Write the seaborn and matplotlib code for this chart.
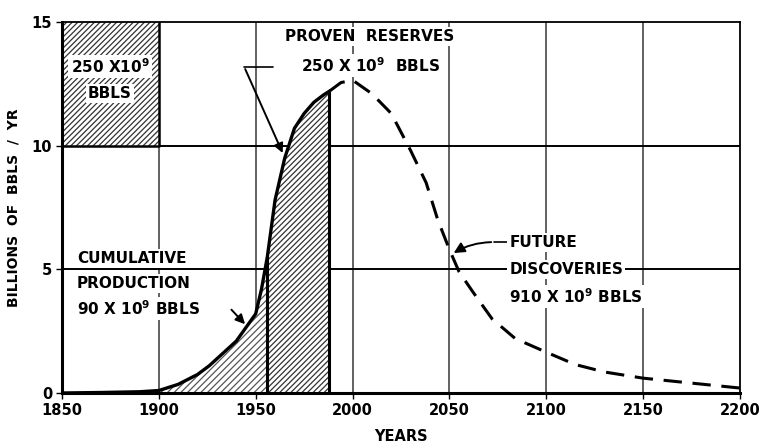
import numpy as np
import pandas as pd
import seaborn as sns
import matplotlib.pyplot as plt

# production curve (billions of bbls / yr)
years = [1850, 1870, 1890, 1900, 1910, 1920, 1926, 1933, 1940, 1945, 1950,
         1953, 1956, 1960, 1965, 1970, 1975, 1980, 1985, 1988, 1994, 2000,
         2010, 2020, 2030, 2038, 2044, 2050, 2055, 2062, 2072, 2084, 2100,
         2115, 2130, 2150, 2175, 2200]
production = [0.0, 0.02, 0.05, 0.1, 0.35, 0.75, 1.1, 1.6, 2.1, 2.65, 3.2,
              4.2, 5.5, 7.8, 9.5, 10.7, 11.3, 11.75, 12.05, 12.2, 12.55, 12.65,
              12.1, 11.3, 9.8, 8.5, 7.0, 5.8, 4.9, 4.1, 3.0, 2.2, 1.65,
              1.15, 0.85, 0.6, 0.4, 0.2]
production_end = 1956   # cumulative production up to here
reserves_end = 1988     # proven reserves up to here
box_years = [1850, 1900]
box_range = [10, 15]

x_ticks = [1850, 1900, 1950, 2000, 2050, 2100, 2150, 2200]
y_ticks = [0, 5, 10, 15]

df = pd.DataFrame({"year": years, "prod": production})
past = df[df.year <= reserves_end]
future = df[df.year >= reserves_end]
cum = df[(df.year >= 1900) & (df.year <= production_end)]
res = df[(df.year >= production_end) & (df.year <= reserves_end)]

sns.set_style("white")
plt.rcParams["font.family"] = ["DejaVu Sans"]
plt.rcParams["font.weight"] = "bold"
plt.rcParams["hatch.linewidth"] = 0.9
for k in ["text.color", "axes.labelcolor", "xtick.color", "ytick.color"]:
    plt.rcParams[k] = "black"

fig = plt.figure(figsize=(7.68, 4.47), dpi=100)
ax = fig.add_axes([0.0807, 0.1208, 0.8828, 0.83])

# grid
for x in x_ticks[1:-1]:
    ax.axvline(x, color="#555555", lw=1.3, zorder=1)
for y in [5, 10]:
    ax.axhline(y, color="black", lw=1.4, zorder=1)

# hatched areas
ax.fill_between(box_years, box_range[0], box_range[1], facecolor="white",
                edgecolor="#333333", hatch="//////", lw=0, zorder=2)
ax.plot([1850, 1900, 1900], [10, 10, 15], color="black", lw=1.8, zorder=3)
ax.fill_between(cum.year, 0, cum["prod"], facecolor="white",
                edgecolor="#555555", hatch="/////", lw=0, zorder=2)
ax.fill_between(res.year, 0, res["prod"], facecolor="white",
                edgecolor="#333333", hatch="//////", lw=0, zorder=2)
ax.vlines([production_end, reserves_end], 0,
          [res["prod"].iloc[0], res["prod"].iloc[-1]], color="black", lw=2.2, zorder=3)

# curve
sns.lineplot(data=past, x="year", y="prod", ax=ax, color="black", lw=2.4, zorder=4)
sns.lineplot(data=future, x="year", y="prod", ax=ax, color="black", lw=2.2,
             linestyle=(0, (6, 3.5)), zorder=4)

bg = dict(facecolor="white", edgecolor="none", pad=1.5)
tkw = dict(fontsize=11, fontweight="bold", zorder=5)

ax.text(1874.8, 13.2, "250 X10$^9$", ha="center", va="center", bbox=bg, **tkw)
ax.text(1874.8, 12.1, "BBLS", ha="center", va="center", bbox=bg, **tkw)

ax.text(2009, 14.4, "PROVEN  RESERVES", ha="center", va="center", bbox=bg, **tkw)
ax.text(2009, 13.25, "250 X 10$^9$  BBLS", ha="center", va="center", bbox=bg, **tkw)
ax.plot([1944, 1959], [13.2, 13.2], color="black", lw=1.2, zorder=4)
ax.annotate("", xy=(1964.5, 9.6), xytext=(1944, 13.2),
            arrowprops=dict(arrowstyle="-|>", color="black", lw=1.4,
                            mutation_scale=14), zorder=5)

ax.text(1857.7, 5.44, "CUMULATIVE", ha="left", va="center", bbox=bg, **tkw)
ax.text(1857.7, 4.44, "PRODUCTION", ha="left", va="center", bbox=bg, **tkw)
ax.text(1857.7, 3.43, "90 X 10$^9$ BBLS", ha="left", va="center", bbox=bg, **tkw)
ax.annotate("", xy=(1945.5, 2.7), xytext=(1936.5, 3.45),
            arrowprops=dict(arrowstyle="-|>", color="black", lw=1.4,
                            mutation_scale=14), zorder=5)

ax.text(2081, 6.09, "FUTURE", ha="left", va="center", bbox=bg, **tkw)
ax.text(2081, 5.0, "DISCOVERIES", ha="left", va="center", bbox=bg, **tkw)
ax.text(2081, 3.91, "910 X 10$^9$ BBLS", ha="left", va="center", bbox=bg, **tkw)
ax.plot([2080, 2073], [6.1, 6.1], color="black", lw=1.2, zorder=4)
ax.annotate("", xy=(2051, 5.6), xytext=(2073, 6.1),
            arrowprops=dict(arrowstyle="-|>", color="black", lw=1.4,
                            mutation_scale=16,
                            connectionstyle="arc3,rad=0.15"), zorder=5)

ax.set_xlim(1850, 2200)
ax.set_ylim(0, 15)
ax.set_xticks(x_ticks)
ax.set_yticks(y_ticks)
ax.set_xticklabels([str(t) for t in x_ticks], fontsize=10.5, fontweight="bold")
ax.set_yticklabels([str(t) for t in y_ticks], fontsize=10.5, fontweight="bold")
ax.tick_params(length=4, width=1, direction="out", pad=3, bottom=True, left=True)
ax.set_xlabel("YEARS", fontsize=10.5, fontweight="bold", labelpad=8)
ax.set_ylabel("BILLIONS  OF  BBLS  /  YR", fontsize=10, fontweight="bold", labelpad=8)

for side in ["left", "bottom"]:
    ax.spines[side].set_linewidth(2.2)
for side in ["top", "right"]:
    ax.spines[side].set_linewidth(1.3)
for s in ax.spines.values():
    s.set_color("black")
    s.set_zorder(6)

fig.savefig("out.png", dpi=100)
